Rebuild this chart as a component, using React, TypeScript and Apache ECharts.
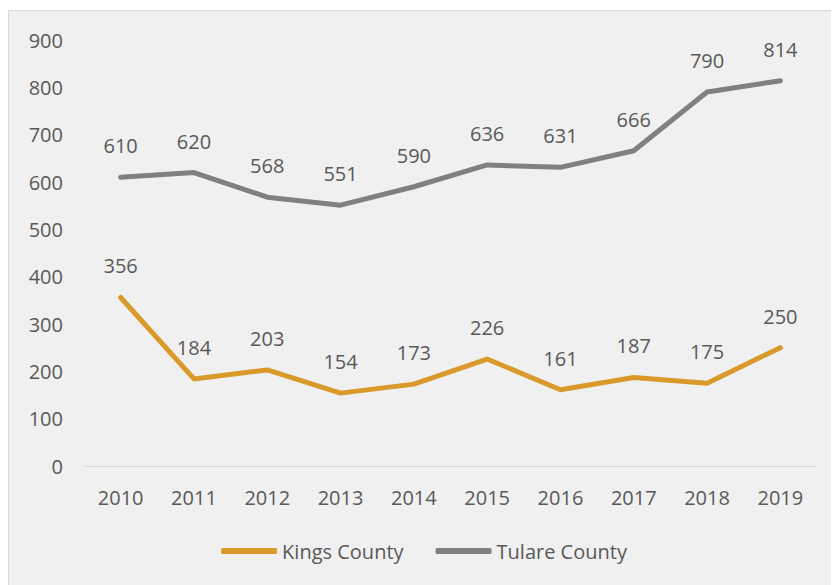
import React, { useEffect, useRef } from "react";
import * as echarts from "echarts";

const years = ["2010", "2011", "2012", "2013", "2014", "2015", "2016", "2017", "2018", "2019"];
const kingsCounty = [356, 184, 203, 154, 173, 226, 161, 187, 175, 250];
const tulareCounty = [610, 620, 568, 551, 590, 636, 631, 666, 790, 814];

const FONT = "'Open Sans', 'Liberation Sans', sans-serif";
const TEXT = "#595959";
const FS = 20;

export default function App() {
  const ref = useRef<HTMLDivElement>(null);
  useEffect(() => {
    if (!ref.current) return;
    const chart = echarts.init(ref.current, undefined, { renderer: "svg" });
    const mk = (name: string, data: number[], color: string) => ({
      name,
      type: "line",
      data,
      symbol: "circle",
      symbolSize: 1,
      lineStyle: { color, width: 5, cap: "round", join: "round" },
      itemStyle: { color },
      label: {
        show: true,
        position: "top",
        distance: 21,
        color: TEXT,
        fontSize: FS,
        fontFamily: FONT,
      },
    });
    chart.setOption({
      animation: false,
      backgroundColor: "#f0f0f0",
      textStyle: { fontFamily: FONT },
      grid: { left: 75, right: 22, top: 29, bottom: 119, containLabel: false },
      xAxis: {
        type: "category",
        data: years,
        boundaryGap: true,
        axisLine: { lineStyle: { color: "#d9d9d9", width: 1 } },
        axisTick: { show: false },
        axisLabel: { color: TEXT, fontSize: FS, fontFamily: FONT, margin: 21 },
        splitLine: { show: false },
      },
      yAxis: {
        type: "value",
        min: 0,
        max: 900,
        interval: 100,
        axisLine: { show: false },
        axisTick: { show: false },
        splitLine: { show: false },
        axisLabel: { color: TEXT, fontSize: FS, fontFamily: FONT, margin: 21 },
      },
      legend: {
        top: 525,
        left: "center",
        itemWidth: 56,
        itemHeight: 6,
        itemGap: 32,
        icon: "roundRect",
        textStyle: { color: TEXT, fontSize: FS, fontFamily: FONT },
        data: ["Kings County", "Tulare County"],
      },
      series: [
        mk("Kings County", kingsCounty, "#D99A2B"),
        mk("Tulare County", tulareCounty, "#808080"),
      ],
    });
    return () => chart.dispose();
  }, []);
  return (
    <div
      ref={ref}
      style={{
        width: 831,
        height: 575,
        marginTop: 2,
        borderTop: "1px solid #d9d9d9",
        borderLeft: "1px solid #d9d9d9",
        boxSizing: "border-box",
      }}
    />
  );
}
